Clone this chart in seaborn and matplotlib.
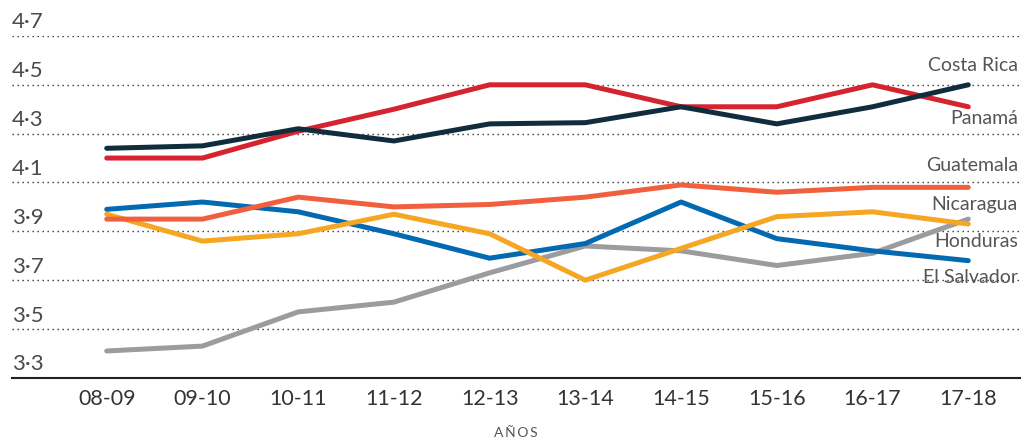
import pandas as pd
import matplotlib
matplotlib.use("Agg")
import matplotlib.pyplot as plt
import seaborn as sns


years = ['08-09', '09-10', '10-11', '11-12', '12-13',
         '13-14', '14-15', '15-16', '16-17', '17-18']

costa_rica = [4.24, 4.25, 4.32, 4.27, 4.34, 4.345, 4.41, 4.34, 4.41, 4.50]
panama = [4.20, 4.20, 4.31, 4.40, 4.50, 4.50, 4.41, 4.41, 4.50, 4.41]
guatemala = [3.95, 3.95, 4.04, 4.00, 4.01, 4.04, 4.09, 4.06, 4.08, 4.08]
el_salvador = [3.99, 4.02, 3.98, 3.89, 3.79, 3.85, 4.02, 3.87, 3.82, 3.78]
honduras = [3.97, 3.86, 3.89, 3.97, 3.89, 3.70, 3.83, 3.96, 3.98, 3.93]
nicaragua = [3.41, 3.43, 3.57, 3.61, 3.73, 3.84, 3.82, 3.76, 3.81, 3.95]

y_ticks = [3.3, 3.5, 3.7, 3.9, 4.1, 4.3, 4.5, 4.7]
y_tick_labels = ['3·3', '3·5', '3·7', '3·9', '4·1', '4·3', '4·5', '4·7']

series = {
    'Nicaragua': nicaragua,
    'El Salvador': el_salvador,
    'Honduras': honduras,
    'Guatemala': guatemala,
    'Panamá': panama,
    'Costa Rica': costa_rica,
}
colores = {
    'Costa Rica': '#0f2d3c',
    'Panamá': '#d52330',
    'Guatemala': '#f0603e',
    'Nicaragua': '#9b9ba0',
    'Honduras': '#f5a623',
    'El Salvador': '#0369b1',
}
# posicion vertical de las etiquetas a la derecha
etiqueta_y = {
    'Costa Rica': 4.58,
    'Panamá': 4.36,
    'Guatemala': 4.17,
    'Nicaragua': 4.01,
    'Honduras': 3.86,
    'El Salvador': 3.71,
}

rows = []
for pais, vals in series.items():
    for i, v in enumerate(vals):
        rows.append({'pais': pais, 'idx': i, 'valor': v})
df = pd.DataFrame(rows)

sns.set_style('white')
plt.rcParams['font.family'] = ['Lato', 'DejaVu Sans']

fig = plt.figure(figsize=(10.22, 4.44), dpi=100)
ax = fig.add_axes([0.0117, 0.149, 0.9863, 0.770])

sns.lineplot(data=df, x='idx', y='valor', hue='pais', palette=colores,
             hue_order=list(series.keys()), linewidth=3.6, legend=False,
             ax=ax, solid_capstyle='round')

for v in y_ticks[1:]:
    ax.axhline(v, color='#333333', linewidth=1.0, linestyle=(0, (1, 2.6)), zorder=0)

ax.set_xlim(-0.99, 9.54)
ax.set_ylim(3.3, 4.7)

for sp in ['top', 'right', 'left']:
    ax.spines[sp].set_visible(False)
ax.spines['bottom'].set_color('#222222')
ax.spines['bottom'].set_linewidth(1.5)

ax.set_yticks([])
for v, lbl in zip(y_ticks, y_tick_labels):
    ax.annotate(lbl, xy=(0, v), xycoords=('axes fraction', 'data'),
                xytext=(0, 2.5), textcoords='offset points',
                ha='left', va='bottom', fontsize=16, color='#4a4a4a')

ax.set_xticks(range(len(years)))
ax.set_xticklabels(years, fontsize=15.5, color='#333333')
ax.tick_params(axis='x', length=0, pad=8)
ax.set_xlabel('A\u2009Ñ\u2009O\u2009S', fontsize=10, color='#555555', labelpad=13)
ax.set_ylabel('')

for pais, yy in etiqueta_y.items():
    ax.text(0.998, yy, pais, transform=ax.get_yaxis_transform(),
            ha='right', va='center', fontsize=14, color='#555555')

fig.savefig('out.png', dpi=100)
